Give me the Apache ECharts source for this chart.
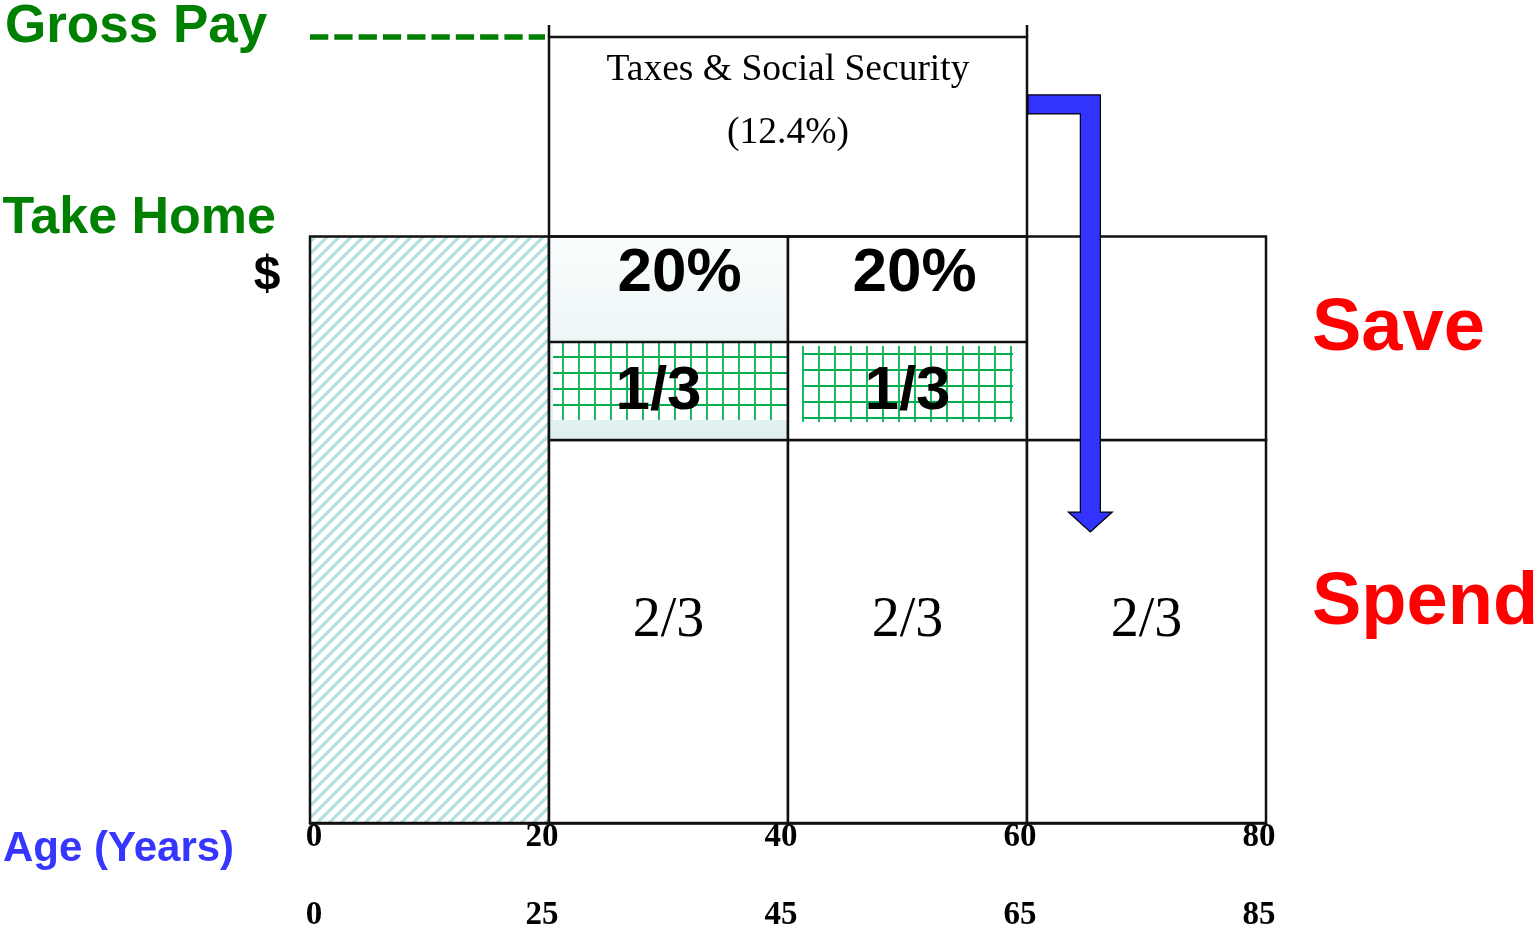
<!DOCTYPE html>
<html>
<head>
<meta charset="utf-8">
<script src="https://cdn.jsdelivr.net/npm/echarts@6/dist/echarts.min.js"></script>
<style>
  html, body { margin: 0; padding: 0; background: #fff; }
  #chart { width: 1539px; height: 932px; }
</style>
</head>
<body>
<div id="chart"></div>
<script>
// ---- data ----
const ageTicks = [0, 20, 40, 60, 80];          // working-life axis
const ageTicksAlt = [0, 25, 45, 65, 85];       // matching calendar ages
const phaseStart = [0, 20, 40, 60];
const phaseEnd = [20, 40, 60, 80];
const grossPay = 134;                          // income before taxes
const takeHome = 100;                          // income after taxes
const spendLevel = 65.3;                       // boundary between spend and save
const splitLevel = 82;                         // boundary between 20% and 1/3
const saveRateLabels = ['', '20%', '20%', ''];
const saveShareLabels = ['', '1/3', '1/3', ''];
const spendLabels = ['', '2/3', '2/3', '2/3'];
const taxAges = [20, 60];
const taxLines = ['Taxes & Social Security', '(12.4%)'];
const arrowAges = [60, 65.3];
const arrowLevels = [122.5, 49.6];

// ---- styles ----
const INK = '#111';
const LINE_W = 2.5;
const GREEN = '#008000';
const GRID_GREEN = '#00b050';
const SANS = '"Liberation Sans", Arial, sans-serif';
const SERIF = '"Liberation Serif", "Times New Roman", serif';
// insets (px) of the graph-paper patch inside each save cell
const patchStyle = [null,
  { l: 4, r: 1, t: 1, b: 20, v0: 10, h0: 15, hCount: 4, bg: '#fff' },
  { l: 14, r: 14, t: 4, b: 18, v0: 1, h0: 12, hCount: 5, bg: null }
];
const rateOffset = [0, 11, 7, 0];
const shareOffset = [0, -10, 0, 0];

// diagonal hatch tile for the pre-work years
const TILE = 12;
const hatch = document.createElement('canvas');
hatch.width = TILE; hatch.height = TILE;
const hc = hatch.getContext('2d');
hc.fillStyle = '#fff';
hc.fillRect(0, 0, TILE, TILE);
hc.strokeStyle = '#b6dfe1';
hc.lineWidth = 3.3;
hc.beginPath();
hc.moveTo(-2, TILE + 2); hc.lineTo(TILE + 2, -2);
hc.moveTo(-2, 2); hc.lineTo(2, -2);
hc.moveTo(TILE - 2, TILE + 2); hc.lineTo(TILE + 2, TILE - 2);
hc.stroke();

function box(api, x0, x1, y0, y1) {
  const tl = api.coord([x0, y1]);
  const br = api.coord([x1, y0]);
  return { x: tl[0], y: tl[1], width: br[0] - tl[0], height: br[1] - tl[1] };
}

function label(text, x, y, font, fill, align) {
  return {
    type: 'text',
    style: {
      text: text, x: x, y: y, font: font, fill: fill || '#000',
      textAlign: align || 'center', textVerticalAlign: 'middle',
      align: align || 'center', verticalAlign: 'middle'
    }
  };
}

const workIdx = [1, 2, 3];
const youthData = [[phaseStart[0], phaseEnd[0], 0, takeHome]];
const spendData = workIdx.map(i => [phaseStart[i], phaseEnd[i], 0, spendLevel]);
const saveData = workIdx.map(i => [phaseStart[i], phaseEnd[i], spendLevel, takeHome]);
const taxData = [[taxAges[0], taxAges[1], takeHome, grossPay]];
const grossData = [[phaseStart[0], taxAges[0], grossPay, grossPay]];
const arrowData = [[arrowAges[0], arrowAges[1], arrowLevels[0], arrowLevels[1]]];

const tickFont = { fontFamily: SERIF, fontWeight: 'bold', fontSize: 33, color: '#000' };
const tickRich = {
  first: Object.assign({ padding: [0, 0, 0, 8] }, tickFont),
  rest: Object.assign({ padding: [0, 14, 0, 0] }, tickFont)
};
function tickText(text, v) {
  return (v === ageTicks[0] ? '{first|' : '{rest|') + text + '}';
}

const xCommon = {
  type: 'value', min: 0, max: 80, interval: 20,
  axisTick: { show: false }, splitLine: { show: false }
};

const option = {
  animation: false,
  backgroundColor: '#fff',
  grid: { left: 310, right: 273, top: 37, bottom: 109 },
  xAxis: [
    Object.assign({}, xCommon, {
      position: 'bottom',
      axisLine: { show: true, lineStyle: { color: INK, width: LINE_W } },
      axisLabel: Object.assign({ margin: -2, rich: tickRich, formatter: v => tickText(String(v), v) }, tickFont)
    }),
    Object.assign({}, xCommon, {
      position: 'bottom', offset: 78,
      axisLine: { show: false },
      axisLabel: Object.assign({
        margin: -2, rich: tickRich,
        formatter: v => tickText(String(ageTicksAlt[ageTicks.indexOf(v)]), v)
      }, tickFont)
    })
  ],
  yAxis: { type: 'value', min: 0, max: grossPay, show: false },
  graphic: [
    { type: 'text', x: 5, y: 27, style: { text: 'Gross Pay', font: 'bold 53px ' + SANS, fill: GREEN, textAlign: 'left', textVerticalAlign: 'middle' } },
    { type: 'text', x: 276, y: 219, style: { text: 'Take Home', font: 'bold 52px ' + SANS, fill: GREEN, textAlign: 'right', textVerticalAlign: 'middle' } },
    { type: 'text', x: 267, y: 276, style: { text: '$', font: 'bold 48px ' + SANS, fill: '#000', textAlign: 'center', textVerticalAlign: 'middle' } },
    { type: 'text', x: 1312, y: 330, style: { text: 'Save', font: 'bold 74px ' + SANS, fill: '#ff0000', textAlign: 'left', textVerticalAlign: 'middle' } },
    { type: 'text', x: 1312, y: 604, style: { text: 'Spend', font: 'bold 74px ' + SANS, fill: '#ff0000', textAlign: 'left', textVerticalAlign: 'middle' } },
    { type: 'text', x: 3, y: 849, style: { text: 'Age (Years)', font: 'bold 42px ' + SANS, fill: '#3636ff', textAlign: 'left', textVerticalAlign: 'middle' } }
  ],
  series: [
    {
      // years before work: hatched
      type: 'custom', name: 'Youth', encode: { x: [0, 1], y: [2, 3] }, data: youthData,
      renderItem: (params, api) => {
        const r = box(api, api.value(0), api.value(1), api.value(2), api.value(3));
        return {
          type: 'rect', shape: r,
          style: { fill: { image: hatch, repeat: 'repeat' }, stroke: INK, lineWidth: LINE_W }
        };
      }
    },
    {
      // spending share of take-home pay
      type: 'custom', name: 'Spend', encode: { x: [0, 1], y: [2, 3] }, data: spendData,
      renderItem: (params, api) => {
        const i = workIdx[params.dataIndex];
        const r = box(api, api.value(0), api.value(1), api.value(2), api.value(3));
        return {
          type: 'group', children: [
            { type: 'rect', shape: r, style: { fill: '#fff', stroke: INK, lineWidth: LINE_W } },
            label(spendLabels[i], r.x + r.width / 2, r.y + r.height / 2 - 10, '56px ' + SERIF, '#000')
          ]
        };
      }
    },
    {
      // saving share of take-home pay
      type: 'custom', name: 'Save', encode: { x: [0, 1], y: [2, 3] }, data: saveData,
      renderItem: (params, api) => {
        const i = workIdx[params.dataIndex];
        const r = box(api, api.value(0), api.value(1), api.value(2), api.value(3));
        const children = [];
        const fill = i === 1 ? {
          type: 'linear', x: 0, y: 0, x2: 0, y2: 1,
          colorStops: [{ offset: 0, color: '#fafdfd' }, { offset: 1, color: '#e1eff1' }]
        } : '#fff';
        children.push({ type: 'rect', shape: r, style: { fill: fill, stroke: null } });
        const ySplit = api.coord([0, splitLevel])[1];
        const p = patchStyle[i];
        if (p) {
          const px0 = r.x + p.l, px1 = r.x + r.width - p.r;
          const py0 = ySplit + p.t, py1 = r.y + r.height - p.b;
          if (p.bg) {
            children.push({ type: 'rect', shape: { x: px0, y: py0, width: px1 - px0, height: py1 - py0 }, style: { fill: p.bg } });
          }
          for (let x = px0 + p.v0; x <= px1 - 1; x += 16) {
            children.push({ type: 'line', shape: { x1: x, y1: py0, x2: x, y2: py1 }, style: { stroke: GRID_GREEN, lineWidth: 1.8 } });
          }
          for (let k = 0; k < p.hCount; k++) {
            const y = ySplit + p.h0 + k * 16;
            children.push({ type: 'line', shape: { x1: px0, y1: y, x2: px1, y2: y }, style: { stroke: GRID_GREEN, lineWidth: 1.8 } });
          }
          children.push({ type: 'line', shape: { x1: r.x, y1: ySplit, x2: r.x + r.width, y2: ySplit }, style: { stroke: INK, lineWidth: LINE_W } });
        }
        children.push({ type: 'rect', shape: r, style: { fill: null, stroke: INK, lineWidth: LINE_W } });
        if (saveRateLabels[i]) {
          const cx = r.x + r.width / 2;
          children.push(label(saveRateLabels[i], cx + rateOffset[i], r.y + 37, 'bold 62px ' + SANS, '#000'));
          children.push(label(saveShareLabels[i], cx + shareOffset[i], (ySplit + r.y + r.height) / 2 + 1, 'bold 62px ' + SANS, '#000'));
        }
        return { type: 'group', children: children };
      }
    },
    {
      // taxes between gross and take-home pay
      type: 'custom', name: 'Taxes', encode: { x: [0, 1], y: [2, 3] }, data: taxData,
      renderItem: (params, api) => {
        const r = box(api, api.value(0), api.value(1), api.value(2), api.value(3));
        const cx = r.x + r.width / 2;
        return {
          type: 'group', children: [
            { type: 'rect', shape: r, style: { fill: null, stroke: INK, lineWidth: LINE_W } },
            { type: 'line', shape: { x1: r.x, y1: r.y - 12, x2: r.x, y2: r.y }, style: { stroke: INK, lineWidth: LINE_W } },
            { type: 'line', shape: { x1: r.x + r.width, y1: r.y - 12, x2: r.x + r.width, y2: r.y }, style: { stroke: INK, lineWidth: LINE_W } },
            label(taxLines[0], cx, r.y + 33, '37.5px ' + SERIF, '#000'),
            label(taxLines[1], cx, r.y + 96, '37.5px ' + SERIF, '#000')
          ]
        };
      }
    },
    {
      // gross pay level guide
      type: 'custom', name: 'Gross Pay', encode: { x: [0, 1], y: [2, 3] }, data: grossData,
      renderItem: (params, api) => {
        const a = api.coord([api.value(0), api.value(2)]);
        const b = api.coord([api.value(1), api.value(3)]);
        return {
          type: 'line', shape: { x1: a[0], y1: a[1], x2: b[0] - 4, y2: b[1] },
          style: { stroke: GREEN, lineWidth: 5.5, lineDash: [18.3, 6] }
        };
      }
    },
    {
      // flow from taxes (Social Security) into retirement spending
      type: 'custom', name: 'Flow', encode: { x: [0, 1], y: [2, 3] }, data: arrowData,
      renderItem: (params, api) => {
        const s = api.coord([api.value(0), api.value(2)]);
        const e = api.coord([api.value(1), api.value(3)]);
        const x0 = s[0] + 1, yc = s[1], xc = e[0], tip = e[1];
        const hb = 9.5, hw = 10, head = 22, headH = 20;
        return {
          type: 'polygon',
          shape: {
            points: [
              [x0, yc - hb], [xc + hw, yc - hb], [xc + hw, tip - headH], [xc + head, tip - headH],
              [xc, tip], [xc - head, tip - headH], [xc - hw, tip - headH], [xc - hw, yc + hb], [x0, yc + hb]
            ]
          },
          style: { fill: '#3333ff', stroke: '#000', lineWidth: 1.2 }
        };
      }
    }
  ]
};

const chart = echarts.init(document.getElementById('chart'));
chart.setOption(option);
</script>
</body>
</html>
